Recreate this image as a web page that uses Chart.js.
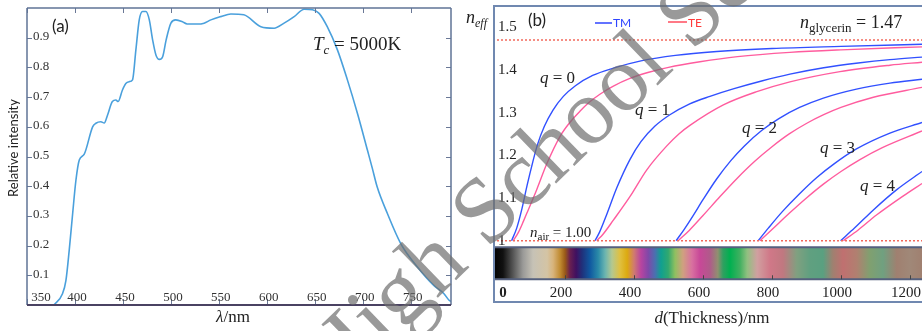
<!DOCTYPE html>
<html>
<head>
<meta charset="utf-8">
<script src="https://cdn.jsdelivr.net/npm/chart.js@4.4.1/dist/chart.umd.min.js"></script>
<style>
html,body{margin:0;padding:0;background:#fff;}
#wrap{position:relative;width:922px;height:331px;overflow:hidden;background:#fff;}
#ca{position:absolute;left:0;top:0;}
#cb{position:absolute;left:460px;top:0;}
#ov{position:absolute;left:0;top:0;pointer-events:none;}
</style>
</head>
<body>
<div id="wrap">
<canvas id="ca" width="460" height="331"></canvas>
<canvas id="cb" width="462" height="331"></canvas>
<svg id="ov" width="922" height="331" xmlns="http://www.w3.org/2000/svg">
  <g font-family="'Liberation Serif', serif" fill="#222">
    <text transform="translate(18,148) rotate(-90)" text-anchor="middle" font-family="Lato, sans-serif" font-size="13">Relative intensity</text>
    <text x="52" y="32" font-family="Lato, sans-serif" font-size="17">(a)</text>
    <text x="313" y="50" font-size="19"><tspan font-style="italic">T</tspan><tspan font-style="italic" font-size="13" dy="4">c</tspan><tspan dy="-4"> = 5000K</tspan></text>
    <text x="233" y="322" text-anchor="middle" font-size="17"><tspan font-style="italic">λ</tspan>/nm</text>
    <text x="466" y="23" font-size="18"><tspan font-style="italic">n</tspan><tspan font-style="italic" font-size="12" dy="4">eff</tspan></text>
    <text x="528" y="26" font-family="Lato, sans-serif" font-size="17">(b)</text>
    <line x1="595" y1="23" x2="612" y2="23" stroke="#2f45ff" stroke-width="1.5"/>
    <text x="613" y="27" font-family="Lato, sans-serif" font-size="12" fill="#2f45ff">TM</text>
    <line x1="668" y1="22" x2="687" y2="22" stroke="#ff4d5e" stroke-width="1.5"/>
    <text x="688" y="27" font-family="Lato, sans-serif" font-size="12" fill="#ff3a3a">TE</text>
    <text x="800" y="28" font-size="18"><tspan font-style="italic">n</tspan><tspan font-size="13" dy="4">glycerin</tspan><tspan dy="-4"> = 1.47</tspan></text>
    <text x="530" y="237" font-size="15"><tspan font-style="italic">n</tspan><tspan font-size="11" dy="3">air</tspan><tspan dy="-3"> = 1.00</tspan></text>
    <text x="540" y="83" font-size="17"><tspan font-style="italic">q</tspan> = 0</text>
    <text x="635" y="115" font-size="17"><tspan font-style="italic">q</tspan> = 1</text>
    <text x="742" y="133" font-size="17"><tspan font-style="italic">q</tspan> = 2</text>
    <text x="820" y="153" font-size="17"><tspan font-style="italic">q</tspan> = 3</text>
    <text x="860" y="191" font-size="17"><tspan font-style="italic">q</tspan> = 4</text>
    <text x="712" y="323" text-anchor="middle" font-size="17"><tspan font-style="italic">d</tspan>(Thickness)/nm</text>
  </g>
  <text x="335" y="397" transform="rotate(-44 335 397)" font-family="'Liberation Serif', serif" font-size="94" fill="rgba(110,110,110,0.7)">High School Science</text>
</svg>
</div>
<script>
// ---------- Panel (a): spectrum ----------
const wavelength = [378, 387, 390.6, 394, 397.6, 401, 404.5, 409.7, 418.4, 421.8, 427, 430.5, 434, 439, 442.7, 445, 449.5, 453, 456.6, 460, 463.5, 467, 470.5, 474, 477.5, 481, 484.4, 488, 491.4, 495, 500, 505, 512, 517, 527.8, 534.6, 541.7, 552, 562.5, 576, 593.8, 607.6, 618, 628.5, 639, 647.6, 654.5, 663, 673.6, 684, 694.5, 705, 710, 715, 725.7, 739.6, 757, 774, 784.7, 790, 792];
const intensity  = [0.0, 0.038, 0.083, 0.184, 0.308, 0.42, 0.488, 0.508, 0.600, 0.612, 0.617, 0.613, 0.64, 0.685, 0.69, 0.685, 0.724, 0.746, 0.752, 0.758, 0.859, 0.96, 0.988, 0.988, 0.96, 0.892, 0.842, 0.827, 0.836, 0.892, 0.949, 0.96, 0.954, 0.946, 0.946, 0.949, 0.96, 0.971, 0.98, 0.977, 0.937, 0.932, 0.949, 0.971, 0.996, 0.994, 0.982, 0.937, 0.859, 0.758, 0.645, 0.52, 0.46, 0.398, 0.308, 0.207, 0.128, 0.066, 0.038, 0.016, 0.012];
const xTicksA = [350, 400, 450, 500, 550, 600, 650, 700, 750];
const yTicksA = [0.1, 0.2, 0.3, 0.4, 0.5, 0.6, 0.7, 0.8, 0.9];
const xRangeA = [350, 792];
const yRangeA = [0, 1];

// ---------- Panel (b): effective index vs thickness ----------
const tm0D = [45, 60, 75, 90, 105, 120, 140, 165, 195, 230, 280, 340, 420, 520, 640, 800, 1000, 1235];
const tm0N = [1.0, 1.03, 1.075, 1.13, 1.18, 1.225, 1.268, 1.306, 1.338, 1.363, 1.387, 1.404, 1.421, 1.434, 1.443, 1.45, 1.455, 1.46];
const te0D = [50, 65, 80, 89, 118, 147, 186, 215, 243, 270, 301, 340, 388, 440, 500, 591, 700, 852, 1000, 1235];
const te0N = [1.0, 1.02, 1.047, 1.064, 1.12, 1.18, 1.245, 1.278, 1.303, 1.324, 1.343, 1.362, 1.38, 1.394, 1.406, 1.419, 1.431, 1.441, 1.447, 1.454];
const tm1D = [287, 300, 321, 350, 388, 420, 460, 504, 560, 620, 690, 770, 852, 950, 1050, 1142, 1235];
const tm1N = [1.0, 1.02, 1.062, 1.124, 1.19, 1.232, 1.268, 1.295, 1.32, 1.338, 1.356, 1.374, 1.39, 1.405, 1.416, 1.424, 1.43];
const te1D = [292, 310, 340, 388, 437, 495, 530, 562, 659, 756, 852, 997, 1142, 1235];
const te1N = [1.0, 1.015, 1.048, 1.103, 1.166, 1.222, 1.25, 1.27, 1.318, 1.349, 1.372, 1.396, 1.411, 1.418];
const tm2D = [522, 545, 570, 600, 640, 680, 720, 770, 820, 880, 949, 1045, 1142, 1235];
const tm2N = [1.0, 1.026, 1.057, 1.096, 1.145, 1.187, 1.222, 1.258, 1.286, 1.312, 1.334, 1.355, 1.369, 1.378];
const te2D = [528, 560, 600, 650, 700, 750, 800, 850, 901, 950, 1000, 1094, 1235];
const te2N = [1.0, 1.024, 1.059, 1.104, 1.147, 1.186, 1.22, 1.25, 1.275, 1.295, 1.312, 1.336, 1.359];
const tm3D = [760, 790, 830, 880, 930, 980, 1045, 1142, 1235];
const tm3N = [1.0, 1.03, 1.068, 1.11, 1.148, 1.18, 1.215, 1.252, 1.277];
const te3D = [765, 800, 850, 900, 950, 1000, 1055, 1120, 1235];
const te3N = [1.0, 1.026, 1.064, 1.1, 1.133, 1.162, 1.19, 1.218, 1.257];
const tm4D = [999, 1040, 1094, 1161, 1235];
const tm4N = [1.0, 1.03, 1.072, 1.119, 1.162];
const te4D = [1007, 1050, 1103, 1181, 1235];
const te4N = [1.0, 1.025, 1.06, 1.105, 1.134];
const nGlycerin = 1.47;
const nAir = 1.00;
const xTicksB = [0, 200, 400, 600, 800, 1000, 1200];
const yTicksB = [1.0, 1.1, 1.2, 1.3, 1.4, 1.5];
const xRangeB = [-9, 1235];
const yRangeB = [0.854, 1.552];
// interference colour strip (thickness, colour)
const barD = [-9, 20, 49, 78, 107, 148, 165, 186, 200, 214, 232, 249, 272, 296, 316, 336, 359, 380, 400, 420, 441, 461, 478, 499, 519, 542, 568, 591, 620, 643, 658, 678, 707, 728, 757, 794, 832, 872, 910, 948, 977, 1006, 1046, 1084, 1122, 1162, 1200, 1235];
const barColor = ['#000000', '#111111', '#555555', '#9a9a98', '#c6c2b6', '#d4c4a4', '#d8b47c', '#c08a30', '#9a5a18', '#6a2050', '#401060', '#20307a', '#1058a0', '#2a8aa8', '#6ab4b0', '#b4c890', '#e0c040', '#dcaa10', '#d07a70', '#b844a0', '#8048a8', '#4a70b0', '#10a090', '#30a870', '#90c060', '#d0a080', '#d870a0', '#c84898', '#b05a8a', '#909070', '#30a060', '#00b050', '#40b060', '#90c080', '#d0a0a0', '#d07888', '#c07880', '#80a080', '#60a080', '#5aa080', '#a08070', '#c07070', '#b08070', '#80a070', '#70a080', '#a08070', '#a08878', '#a08070'];
const barRangeN = [0.9096, 0.9845];

const pts = (xs, ys) => xs.map((v, i) => ({x: v, y: ys[i]}));
const TM_COLOR = '#3150ff', TE_COLOR = '#ff5c9e';

function seg(ctx, x1, y1, x2, y2){ ctx.beginPath(); ctx.moveTo(x1, y1); ctx.lineTo(x2, y2); ctx.stroke(); }

const panelA = {
  id: 'panelA',
  afterDraw(chart){
    const {ctx, chartArea: a, scales: {x, y}} = chart;
    ctx.save();
    ctx.strokeStyle = '#6a7896'; ctx.lineWidth = 1;
    xTicksA.forEach(v => { const p = Math.round(x.getPixelForValue(v)) + 0.5; seg(ctx, p, a.top, p, a.top + 5); seg(ctx, p, a.bottom, p, a.bottom - 6); });
    yTicksA.forEach(v => { const p = Math.round(y.getPixelForValue(v)) + 0.5; seg(ctx, a.left, p, a.left + 5, p); seg(ctx, a.right, p, a.right - 5, p); });
    ctx.strokeStyle = '#5f7396'; ctx.lineWidth = 1.5;
    seg(ctx, a.left, a.bottom, a.left, a.top); seg(ctx, a.left, a.top, a.right, a.top); seg(ctx, a.right, a.top, a.right, a.bottom);
    ctx.strokeStyle = '#4a4262'; ctx.lineWidth = 2;
    seg(ctx, a.left, a.bottom, a.right, a.bottom);
    ctx.fillStyle = '#333'; ctx.font = '13px "Liberation Serif", serif'; ctx.textBaseline = 'middle';
    ctx.textAlign = 'left';
    yTicksA.forEach(v => ctx.fillText(v.toFixed(1), a.left + 6, y.getPixelForValue(v) - 1));
    ctx.textAlign = 'center';
    xTicksA.forEach((v, i) => { const p = i === 0 ? a.left + 14 : x.getPixelForValue(v) + 2; ctx.fillText(String(v), p, a.bottom - 7); });
    ctx.restore();
  }
};

const panelB = {
  id: 'panelB',
  beforeDatasetsDraw(chart){
    const {ctx, scales: {x, y}} = chart;
    const d0 = barD[0], d1 = barD[barD.length - 1];
    const x0 = x.getPixelForValue(d0), x1 = x.getPixelForValue(d1);
    const g = ctx.createLinearGradient(x0, 0, x1, 0);
    barD.forEach((d, i) => g.addColorStop((d - d0) / (d1 - d0), barColor[i]));
    const yt = y.getPixelForValue(barRangeN[1]), yb = y.getPixelForValue(barRangeN[0]);
    ctx.save();
    ctx.fillStyle = g; ctx.fillRect(x0, yt, x1 - x0, yb - yt);
    ctx.strokeStyle = '#55607e'; ctx.lineWidth = 2;
    seg(ctx, x0, yt, x1, yt); seg(ctx, x0, yb, x1, yb);
    ctx.strokeStyle = '#444'; ctx.lineWidth = 1;
    xTicksB.forEach(v => { if (v === 0) return; const p = Math.round(x.getPixelForValue(v)) + 0.5; seg(ctx, p, yb, p, yb - 4); });
    ctx.restore();
  },
  afterDraw(chart){
    const {ctx, chartArea: a, scales: {x, y}} = chart;
    ctx.save();
    ctx.strokeStyle = '#7088b0'; ctx.lineWidth = 2;
    seg(ctx, a.left + 1, a.bottom, a.left + 1, a.top); seg(ctx, a.left, a.top + 1, a.right, a.top + 1);
    seg(ctx, a.left, a.bottom - 1, a.right, a.bottom - 1);
    ctx.fillStyle = '#222'; ctx.textBaseline = 'middle';
    ctx.font = '15px "Liberation Serif", serif'; ctx.textAlign = 'left';
    yTicksB.forEach(v => ctx.fillText(v === 1 ? '1' : v.toFixed(1), a.left + 5, y.getPixelForValue(v)));
    ctx.textAlign = 'center';
    xTicksB.forEach(v => {
      if (v === 0) { ctx.font = 'bold 15px "Liberation Serif", serif'; ctx.fillText('0', x.getPixelForValue(v) + 7, a.bottom - 10); }
      else { ctx.font = '15px "Liberation Serif", serif'; ctx.fillText(String(v), x.getPixelForValue(v) - 4, a.bottom - 10); }
    });
    ctx.restore();
  }
};

new Chart(document.getElementById('ca'), {
  type: 'line',
  data: { datasets: [{ data: pts(wavelength, intensity), borderColor: '#4aa0dc', borderWidth: 1.6, pointRadius: 0, cubicInterpolationMode: 'monotone', fill: false }] },
  options: {
    responsive: false, animation: false, events: [],
    layout: { padding: { left: 27, top: 8, right: 9, bottom: 26 } },
    plugins: { legend: { display: false }, tooltip: { enabled: false } },
    scales: {
      x: { type: 'linear', min: xRangeA[0], max: xRangeA[1], display: false },
      y: { type: 'linear', min: yRangeA[0], max: yRangeA[1], display: false }
    }
  },
  plugins: [panelA]
});

const curve = (xs, ys, color) => ({ data: pts(xs, ys), borderColor: color, borderWidth: 1.4, pointRadius: 0, cubicInterpolationMode: 'monotone', fill: false });
const dotted = (n) => ({ data: pts(xRangeB, [n, n]), borderColor: '#f26a5c', borderWidth: 1.5, borderDash: [2, 2], pointRadius: 0, fill: false });

new Chart(document.getElementById('cb'), {
  type: 'line',
  data: { datasets: [
    dotted(nGlycerin), dotted(nAir),
    curve(te0D, te0N, TE_COLOR), curve(tm0D, tm0N, TM_COLOR),
    curve(te1D, te1N, TE_COLOR), curve(tm1D, tm1N, TM_COLOR),
    curve(te2D, te2N, TE_COLOR), curve(tm2D, tm2N, TM_COLOR),
    curve(te3D, te3N, TE_COLOR), curve(tm3D, tm3N, TM_COLOR),
    curve(te4D, te4N, TE_COLOR), curve(tm4D, tm4N, TM_COLOR)
  ] },
  options: {
    responsive: false, animation: false, events: [],
    layout: { padding: { left: 33, top: 5, right: 0, bottom: 28 } },
    plugins: { legend: { display: false }, tooltip: { enabled: false } },
    scales: {
      x: { type: 'linear', min: xRangeB[0], max: xRangeB[1], display: false },
      y: { type: 'linear', min: yRangeB[0], max: yRangeB[1], display: false }
    }
  },
  plugins: [panelB]
});
</script>
</body>
</html>
